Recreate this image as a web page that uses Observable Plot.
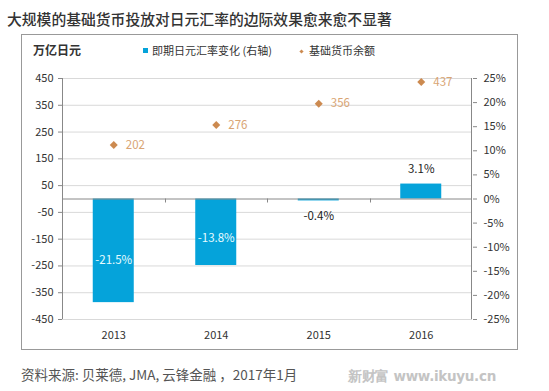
<!DOCTYPE html>
<html>
<head>
<meta charset="utf-8">
<script src="https://cdn.jsdelivr.net/npm/d3@7"></script>
<script src="https://cdn.jsdelivr.net/npm/@observablehq/plot@0.6"></script>
<style>
  html, body { margin: 0; padding: 0; background: #fff; }
  body { width: 549px; height: 391px; position: relative; overflow: hidden;
         font-family: "Noto Sans CJK SC", "Noto Sans", sans-serif; color: #333; }
  .abs { position: absolute; white-space: nowrap; }
  #title { left: 7px; top: 8px; font-size: 14.8px; font-weight: 500; color: #333; }
  #box { left: 21px; top: 34px; width: 495px; height: 314px; border: 1px solid #999; }
  #unit { left: 33px; top: 41px; font-size: 12px; font-weight: bold; color: #333; }
  #leg1 { left: 143px; top: 42px; font-size: 11px; color: #333; }
  #leg2 { left: 297px; top: 42px; font-size: 11px; color: #333; }
  .sw { display: inline-block; width: 5px; height: 5px; background: #05a3da; margin-right: 4px; vertical-align: 2px; }
  .dm { display: inline-block; width: 3px; height: 3px; background: #cc8a50; transform: rotate(45deg); margin-right: 6px; margin-left: 3px; vertical-align: 2px; }
  #caption { left: 21px; top: 364px; font-size: 13.5px; color: #555; }
  #wm { left: 348px; top: 368px; font-size: 13.5px; font-weight: bold; color: #c4c4c4; font-family: "DejaVu Sans", sans-serif; letter-spacing: -0.3px; }
  #chart { left: 0; top: 60px; }
</style>
</head>
<body>
<div id="box" class="abs"></div>
<div id="title" class="abs">大规模的基础货币投放对日元汇率的边际效果愈来愈不显著</div>
<div id="unit" class="abs">万亿日元</div>
<div id="leg1" class="abs"><span class="sw"></span>即期日元汇率变化 (右轴)</div>
<div id="leg2" class="abs"><span class="dm"></span>基础货币余额</div>
<div id="chart" class="abs"></div>
<div id="caption" class="abs">资料来源: 贝莱德, JMA, 云锋金融 ，2017年1月</div>
<div id="wm" class="abs">新财富 www.ikuyu.cn</div>
<script>
// ---- data ----
const years = ["2013", "2014", "2015", "2016"];
const fxChange = [-21.5, -13.8, -0.4, 3.1];        // % (right axis)
const fxLabels = ["-21.5%", "-13.8%", "-0.4%", "3.1%"];
const fxInside = [true, true, false, false];
const baseMoney = [202, 276, 356, 437];            // 万亿日元 (left axis)
const leftTicks = [-450, -350, -250, -150, -50, 50, 150, 250, 350, 450];
const rightTicks = [-25, -20, -15, -10, -5, 0, 5, 10, 15, 20, 25];
const leftMax = 450, rightMax = 25;
const k = leftMax / rightMax; // map % to left-axis units

const bars = years.map((y, i) => ({year: y, v: fxChange[i] * k, label: fxLabels[i], inside: fxInside[i]}));
const pts = years.map((y, i) => ({year: y, v: baseMoney[i]}));

const font = '"Noto Sans CJK SC", "Noto Sans", sans-serif';
const plot = Plot.plot({
  width: 549,
  height: 300,
  marginTop: 18,
  marginBottom: 41,
  marginLeft: 62,
  marginRight: 77,
  style: {fontFamily: font, fontSize: "11px", color: "#333", background: "transparent", overflow: "visible"},
  x: {domain: years, paddingInner: 0.6, paddingOuter: 0.3, align: 0.5, round: false, label: null},
  y: {domain: [-leftMax, leftMax], label: null},
  marks: [
    Plot.gridY(leftTicks, {stroke: "#d9d9d9", strokeOpacity: 1}),
    Plot.barY(bars, {x: "year", y: "v", fill: "#05a3da"}),
    Plot.ruleY([0], {stroke: "#888", strokeWidth: 1}),
    Plot.text(bars.filter(d => d.inside), {x: "year", y: d => d.v * 0.59, text: "label", fill: "#e8fbff", fontSize: 11.5}),
    Plot.text(bars.filter(d => !d.inside && d.v < 0), {x: "year", y: "v", text: "label", fill: "#222", fontSize: 11.5, dy: 15}),
    Plot.text(bars.filter(d => !d.inside && d.v >= 0), {x: "year", y: "v", text: "label", fill: "#222", fontSize: 11.5, dy: -15}),
    Plot.dot(pts, {x: "year", y: "v", symbol: "diamond2", r: 3.6, fill: "#cc8a50", stroke: "none"}),
    Plot.text(pts, {x: "year", y: "v", text: d => String(d.v), dx: 12, textAnchor: "start", fill: "#d9a473", fontSize: 11.5}),
    Plot.axisY(leftTicks, {anchor: "left", tickSize: 4, tickPadding: 5, tickFormat: d => String(d), stroke: "#888", fill: "#333", fontSize: 11}),
    Plot.axisY(rightTicks.map(p => p * k), {anchor: "right", tickSize: 4, tickPadding: 7, tickFormat: d => Math.round(d / k) + "%", stroke: "#888", fill: "#333", fontSize: 11}),
    Plot.axisX({anchor: "bottom", tickSize: 0, tickPadding: 12, fill: "#333", fontSize: 11})
  ]
});
document.getElementById("chart").appendChild(plot);

// axis lines and category-boundary ticks, positioned from the plot's own scales
const xs = plot.scale("x"), ys = plot.scale("y");
const svg = d3.select(plot);
const yTop = ys.apply(leftMax), yBot = ys.apply(-leftMax), y0 = ys.apply(0);
const [xl, xr] = xs.range;
const g = svg.append("g").attr("stroke", "#888").attr("stroke-width", 1);
g.append("line").attr("x1", xl + 0.5).attr("x2", xl + 0.5).attr("y1", yTop).attr("y2", yBot);
g.append("line").attr("x1", xr - 0.5).attr("x2", xr - 0.5).attr("y1", yTop).attr("y2", yBot);
const step = xs.apply(years[1]) - xs.apply(years[0]);
const bw = xs.bandwidth;
years.slice(1).forEach(y => {
  const bx = Math.round(xs.apply(y) - (step - bw) / 2) + 0.5;
  g.append("line").attr("x1", bx).attr("x2", bx).attr("y1", y0).attr("y2", y0 + 4);
});
</script>
</body>
</html>
